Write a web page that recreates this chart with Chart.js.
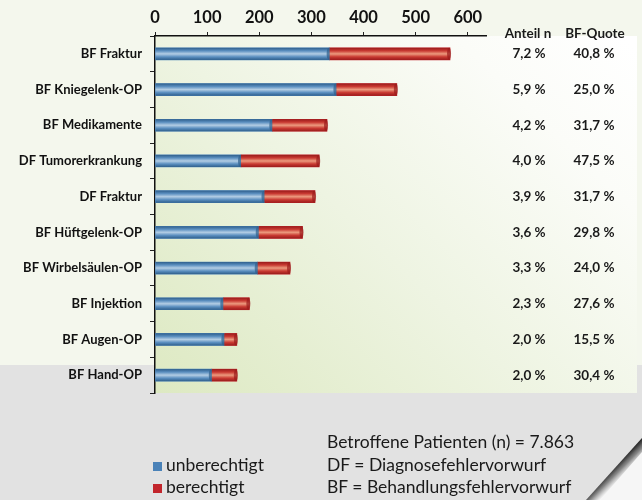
<!DOCTYPE html>
<html>
<head>
<meta charset="utf-8">
<script src="https://cdn.jsdelivr.net/npm/chart.js@4"></script>
<style>
  body { margin: 0; background: #e2e2e2; }
  #wrap { position: relative; width: 642px; height: 500px; }
  .note { position: absolute; font-family: Lato, sans-serif; font-size: 17.5px; color: #1a1a1a; white-space: nowrap; }
  .sq { display: inline-block; width: 9px; height: 9px; margin-right: 4px; vertical-align: 0px; }
</style>
</head>
<body>
<div id="wrap">
  <canvas id="chart"></canvas>
  <div class="note" style="left:327px; top:431px;">Betroffene Patienten (n) = 7.863</div>
  <div class="note" style="left:153px; top:454px;"><span class="sq" style="background:#4a82b8"></span>unberechtigt</div>
  <div class="note" style="left:327px; top:454px;">DF = Diagnosefehlervorwurf</div>
  <div class="note" style="left:153px; top:476px;"><span class="sq" style="background:#c2252c"></span>berechtigt</div>
  <div class="note" style="left:327px; top:476px;">BF = Behandlungsfehlervorwurf</div>
</div>
<script>
// Daten
const categories = ['BF Fraktur', 'BF Kniegelenk-OP', 'BF Medikamente', 'DF Tumorerkrankung', 'DF Fraktur',
    'BF Hüftgelenk-OP', 'BF Wirbelsäulen-OP', 'BF Injektion', 'BF Augen-OP', 'BF Hand-OP'];
const unberechtigt = [335, 348, 225, 165, 210, 199, 197, 131, 133, 109];
const berechtigt = [231, 116, 105, 150, 97, 84, 62, 50, 24, 48];
const anteilN = ['7,2 %', '5,9 %', '4,2 %', '4,0 %', '3,9 %', '3,6 %', '3,3 %', '2,3 %', '2,0 %', '2,0 %'];
const bfQuote = ['40,8 %', '25,0 %', '31,7 %', '47,5 %', '31,7 %', '29,8 %', '24,0 %', '27,6 %', '15,5 %', '30,4 %'];
const xTicks = [0, 100, 200, 300, 400, 500, 600];

const FONT = 'Lato, sans-serif';

// Hintergrund + Panel
const backgroundPlugin = {
    id: 'bg',
    beforeDraw(chart) {
        const ctx = chart.ctx;
        const area = chart.chartArea;
        ctx.save();
        ctx.fillStyle = '#f4f7ed';
        ctx.fillRect(0, 0, chart.width, 365);
        ctx.fillStyle = '#e2e2e2';
        ctx.fillRect(0, 365, chart.width, chart.height - 365);
        const g = ctx.createLinearGradient(area.left, area.bottom, 560, area.top - 60);
        g.addColorStop(0, '#dde9c2');
        g.addColorStop(0.45, '#eef4e2');
        g.addColorStop(0.8, '#fbfcf8');
        g.addColorStop(1, '#ffffff');
        ctx.fillStyle = g;
        ctx.fillRect(area.left, area.top, 637 - area.left, area.bottom - area.top);
        ctx.restore();
    }
};

// Zylinder-Effekt der Balken
const cylinderPlugin = {
    id: 'cylinder',
    afterDatasetsDraw(chart) {
        const ctx = chart.ctx;
        const shades = [
            ['#2f5f8c', '#5b8fc0', '#b3cde4', '#5b8fc0', '#2f5f8c'],
            ['#9a1b1b', '#c93a32', '#ec9a7e', '#c93a32', '#9a1b1b']
        ];
        ctx.save();
        chart.data.datasets.forEach((ds, di) => {
            const meta = chart.getDatasetMeta(di);
            meta.data.forEach(el => {
                const p = el.getProps(['x', 'y', 'base', 'height'], true);
                const left = Math.min(p.base, p.x);
                const w = Math.abs(p.x - p.base);
                const top = p.y - p.height / 2;
                const g = ctx.createLinearGradient(0, top, 0, top + p.height);
                const s = shades[di];
                g.addColorStop(0, s[0]);
                g.addColorStop(0.25, s[1]);
                g.addColorStop(0.5, s[2]);
                g.addColorStop(0.75, s[1]);
                g.addColorStop(1, s[0]);
                ctx.fillStyle = g;
                ctx.fillRect(left, top, w, p.height);
                // Endkappe
                ctx.fillStyle = s[0];
                ctx.globalAlpha = 0.7;
                ctx.beginPath();
                ctx.ellipse(p.x - 1, p.y, 2, p.height / 2, 0, 0, Math.PI * 2);
                ctx.fill();
                ctx.globalAlpha = 1;
            });
        });
        ctx.restore();
    }
};

// Spalten rechts: Anteil n / BF-Quote
const columnsPlugin = {
    id: 'columns',
    afterDraw(chart) {
        const ctx = chart.ctx;
        const y = chart.scales.y;
        ctx.save();
        ctx.fillStyle = '#1a1a1a';
        ctx.textAlign = 'center';
        ctx.textBaseline = 'middle';
        ctx.font = 'bold 13.5px ' + FONT;
        ctx.fillText('Anteil n', 528, 34);
        ctx.fillText('BF-Quote', 595, 34);
        categories.forEach((c, i) => {
            const py = y.getPixelForValue(i);
            ctx.fillText(anteilN[i], 529, py);
            ctx.fillText(bfQuote[i], 594, py);
        });
        // Eselsohr unten rechts
        ctx.fillStyle = '#f6f6f6';
        ctx.beginPath();
        ctx.moveTo(642, 443);
        ctx.lineTo(642, 500);
        ctx.lineTo(589, 500);
        ctx.closePath();
        ctx.fill();
        const g = ctx.createLinearGradient(612, 468, 622, 478);
        g.addColorStop(0, 'rgba(20,20,20,0.95)');
        g.addColorStop(0.5, 'rgba(60,60,60,0.6)');
        g.addColorStop(1, 'rgba(120,120,120,0)');
        ctx.fillStyle = g;
        ctx.beginPath();
        ctx.moveTo(642, 438);
        ctx.lineTo(642, 452);
        ctx.lineTo(600, 500);
        ctx.lineTo(586, 500);
        ctx.closePath();
        ctx.fill();
        ctx.restore();
    }
};

new Chart(document.getElementById('chart'), {
    type: 'bar',
    data: {
        labels: categories,
        datasets: [
            { label: 'unberechtigt', data: unberechtigt, backgroundColor: '#4a82b8', barThickness: 12 },
            { label: 'berechtigt', data: berechtigt, backgroundColor: '#c2252c', barThickness: 12 }
        ]
    },
    options: {
        indexAxis: 'y',
        responsive: true,
        maintainAspectRatio: false,
        animation: false,
        layout: { padding: { left: 0, right: 156, top: 0, bottom: 107 } },
        plugins: {
            legend: { display: false },
            tooltip: { enabled: false }
        },
        scales: {
            x: {
                position: 'top',
                stacked: true,
                min: 0,
                max: 635,
                afterBuildTicks(scale) {
                    scale.ticks = xTicks.map(v => ({ value: v }));
                },
                afterFit(scale) { scale.height = 36; },
                grid: { drawOnChartArea: false, drawTicks: true, tickLength: 4, color: '#222' },
                border: { color: '#111', width: 1.5 },
                ticks: { color: '#111', padding: 4, font: { family: FONT, size: 16.5, weight: 'bold' } }
            },
            y: {
                stacked: true,
                afterFit(scale) { scale.width = 155; },
                grid: { drawOnChartArea: false, drawTicks: true, tickLength: 5, color: '#222', offset: true },
                border: { color: '#111', width: 1.5 },
                ticks: { color: '#111', padding: 8, font: { family: FONT, size: 13, weight: 'bold' } }
            }
        }
    },
    plugins: [backgroundPlugin, cylinderPlugin, columnsPlugin]
});
</script>
</body>
</html>
